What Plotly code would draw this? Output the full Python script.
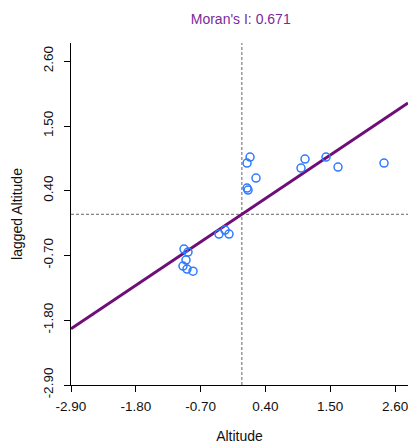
import numpy as np
import plotly.graph_objects as go

altitude = [-0.982, -0.914, -0.948, -0.999, -0.931, -0.829, -0.388, -0.286, -0.218,
            0.139, 0.088, 0.240, 0.088, 0.105, 1.072, 1.004, 1.429, 1.632, 2.413]
lagged = [-0.591, -0.642, -0.778, -0.880, -0.931, -0.966, -0.336, -0.268, -0.336,
          0.973, 0.871, 0.616, 0.446, 0.412, 0.939, 0.786, 0.973, 0.803, 0.871]
morans_i = 0.671
ticks = [-2.90, -1.80, -0.70, 0.40, 1.50, 2.60]
x_range = [-2.9, 2.82]
y_range = [-2.9, 2.91]

xfit = np.array(x_range)
yfit = morans_i * xfit

fig = go.Figure()
fig.add_trace(go.Scatter(x=xfit, y=yfit, mode="lines",
                         line=dict(color="#6E0F78", width=3), hoverinfo="skip"))
fig.add_trace(go.Scatter(x=altitude, y=lagged, mode="markers",
                         marker=dict(symbol="circle-open", size=8, color="#2F7BFF",
                                     line=dict(width=1.5, color="#2F7BFF"))))
fig.add_vline(x=0, line=dict(color="#666666", width=1, dash="3px,2px"), layer="below")
fig.add_hline(y=0, line=dict(color="#666666", width=1, dash="3px,2px"), layer="below")

axis_font = dict(family="Liberation Sans, Arial", size=14, color="#111111")
tick_font = dict(family="Liberation Sans, Arial", size=13.5, color="#111111")
fig.update_layout(
    width=408, height=444,
    margin=dict(l=71, r=0, t=43, b=59),
    paper_bgcolor="white", plot_bgcolor="white",
    showlegend=False,
    title=dict(text=f"Moran's I: {morans_i:.3f}", x=0.59, xanchor="center", y=0.958,
               yanchor="middle", font=dict(family="Liberation Sans, Arial", size=14, color="#7A2A9A")),
    font=axis_font,
    xaxis=dict(range=x_range, tickvals=ticks, ticktext=[f"{t:.2f}" for t in ticks],
               showgrid=False, zeroline=False, showline=True, linecolor="black", linewidth=1,
               ticks="outside", ticklen=6, tickcolor="black", ticklabeloverflow="allow",
               ticklabelstandoff=3,
               title=dict(text="Altitude", standoff=18, font=axis_font), tickfont=tick_font),
    yaxis=dict(range=y_range, tickvals=ticks, ticktext=[f"{t:.2f}" for t in ticks],
               tickangle=-90, ticklabelstandoff=6,
               showgrid=False, zeroline=False, showline=True, linecolor="black", linewidth=1,
               ticks="outside", ticklen=6, tickcolor="black",
               title=dict(text="lagged Altitude", standoff=14, font=axis_font), tickfont=tick_font),
)
fig.write_html("out.html")
